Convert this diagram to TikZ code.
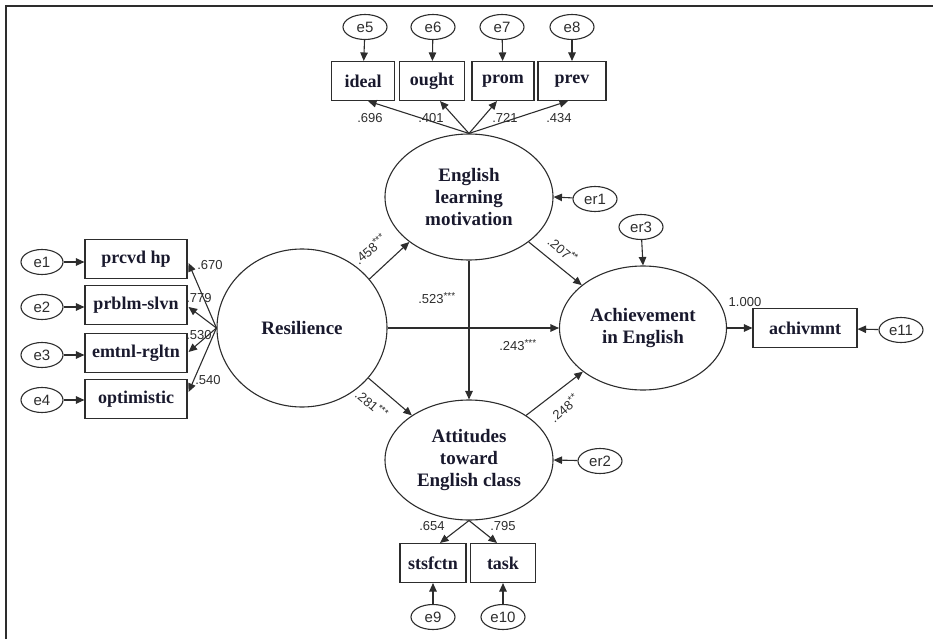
\documentclass[tikz,border=0pt]{standalone}
\usepackage{fontspec}
\setmainfont{Liberation Serif}
\newfontfamily\lblfont{Liberation Sans}
\usetikzlibrary{shapes.geometric,arrows.meta,calc}
\definecolor{ln}{RGB}{45,45,45}
\definecolor{tx}{RGB}{25,25,45}
\tikzset{
  lat/.style={ellipse,draw=ln,line width=1.1pt,minimum width=168pt,minimum height=126pt,inner sep=0pt,align=center,text=tx,font=\fontsize{19}{22}\selectfont\bfseries},
  obs/.style={rectangle,draw=ln,line width=1.1pt,minimum height=39pt,inner sep=0pt,text=tx,font=\fontsize{18}{20}\selectfont\bfseries},
  err/.style={ellipse,draw=ln,line width=1.1pt,minimum width=44pt,minimum height=25pt,inner sep=0pt,text=ln,font=\lblfont\fontsize{15}{17}\selectfont},
  coef/.style={inner sep=0.5pt,text=ln,font=\lblfont\fontsize{13}{14}\selectfont},
  arr/.style={ln,line width=1.1pt,-{Triangle[length=8.5pt,width=7.5pt]}}
}
\newcommand{\stars}[1]{\textsuperscript{\fontsize{10}{10}\selectfont #1}}
\begin{document}
\begin{tikzpicture}[x=1pt,y=-1pt]
\useasboundingbox (0,0) rectangle (933,639);
\draw[ln,line width=2pt] (6,639) -- (6,6) -- (933,6);

% latent variables
\node[lat] (eng) at (469,197) {English\\learning\\motivation};
\node[lat,minimum width=170pt,minimum height=158pt] (res) at (302,328) {Resilience};
\node[lat,minimum width=167pt,minimum height=124pt] (ach) at (643,328) {Achievement\\in English};
\node[lat,minimum height=120pt] (att) at (469,460) {Attitudes\\toward\\English class};

% top indicators
\node[obs,minimum width=63pt] (ideal) at (363,81) {ideal};
\node[obs,minimum width=65pt] (ought) at (432,81) {ought};
\node[obs,minimum width=62pt] (prom) at (503,81) {prom};
\node[obs,minimum width=68pt] (prev) at (572,81) {prev};
\node[err] (e5) at (365,27) {e5};
\node[err] (e6) at (433,27) {e6};
\node[err] (e7) at (502,27) {e7};
\node[err] (e8) at (572,27) {e8};

% left indicators
\node[obs,minimum width=102pt] (b1) at (136,259) {prcvd hp};
\node[obs,minimum width=102pt] (b2) at (136,305) {prblm-slvn};
\node[obs,minimum width=102pt] (b3) at (136,353) {emtnl-rgltn};
\node[obs,minimum width=102pt] (b4) at (136,399) {optimistic};
\node[err,minimum width=42pt] (e1) at (42,262) {e1};
\node[err,minimum width=42pt] (e2) at (42,307) {e2};
\node[err,minimum width=42pt] (e3) at (42,355) {e3};
\node[err,minimum width=42pt] (e4) at (42,400) {e4};

% bottom indicators
\node[obs,minimum width=66pt] (sat) at (433,563) {stsfctn};
\node[obs,minimum width=65pt] (task) at (503,563) {task};
\node[err] (e9) at (433,617) {e9};
\node[err] (e10) at (503,617) {e10};

% outcome indicator
\node[obs,minimum width=104pt] (achv) at (805,328) {achivmnt};
\node[err] (e11) at (901,330) {e11};

% disturbances
\node[err] (er1) at (595,199) {er1};
\node[err] (er2) at (600,461) {er2};
\node[err] (er3) at (641,227) {er3};

% error arrows
\foreach \e/\b in {e5/ideal,e6/ought,e7/prom,e8/prev}{\draw[arr] (\e) -- (\b);}
\foreach \e/\b in {e1/b1,e2/b2,e3/b3,e4/b4}{\draw[arr] (\e.east) -- (\e.east -| \b.west);}
\draw[arr] (e9) -- (sat);
\draw[arr] (e10) -- (task);
\draw[arr] (e11) -- (achv);
\draw[arr] (er1) -- (eng.east);
\draw[arr] (er2) -- (att.east);
\draw[arr] (er3) -- (ach.north);

% loadings
\draw[arr] (eng.north) -- ($(ideal.south)+(5,0)$);
\draw[arr] (eng.north) -- ($(ought.south)+(8,0)$);
\draw[arr] (eng.north) -- ($(prom.south)+(-6,0)$);
\draw[arr] (eng.north) -- ($(prev.south)+(-4,0)$);
\draw[arr] (res.west) -- ($(b1.east)+(1,4)$);
\draw[arr] (res.west) -- ($(b2.east)+(1,2)$);
\draw[arr] (res.west) -- ($(b3.east)+(1,-1)$);
\draw[arr] (res.west) -- ($(b4.east)+(1,-7)$);
\draw[arr] (att.south) -- ($(sat.north)+(7,0)$);
\draw[arr] (att.south) -- ($(task.north)+(-6,0)$);
\draw[arr] (ach.east) -- (achv.west);

% structural paths
\draw[arr] (res.36) -- (eng.217);
\draw[arr] (res.-37) -- (att.142);
\draw[arr] (eng.-37) -- (ach.145);
\draw[arr] (att.38) -- (ach.216);
\draw[arr] (eng.south) -- (att.north);
\draw[arr] (res.east) -- (ach.west);

% coefficient labels
\node[coef] (l1) at (370,118) {.696};
\node[coef] (l2) at (431,118) {.401};
\node[coef] (l3) at (505,118) {.721};
\node[coef] (l4) at (559,118) {.434};
\node[coef] (l5) at (210,265) {.670};
\node[coef] (l6) at (199,298) {.779};
\node[coef] (l7) at (199,335) {.530};
\node[coef] (l8) at (208,380) {.540};
\node[coef] (l9) at (432,526) {.654};
\node[coef] (l10) at (503,526) {.795};
\node[coef] (l11) at (745,302) {1.000};
\node[coef,rotate=40] (l12) at (370,249) {.458\stars{***}};
\node[coef,rotate=-40] (l13) at (563,250) {.207\stars{**}};
\node[coef] (l14) at (437,298) {.523\stars{***}};
\node[coef] (l15) at (518,345) {.243\stars{***}};
\node[coef,rotate=-40] (l16) at (372,404) {.281\stars{***}};
\node[coef,rotate=40] (l17) at (564,408) {.248\stars{**}};
\end{tikzpicture}
\end{document}
